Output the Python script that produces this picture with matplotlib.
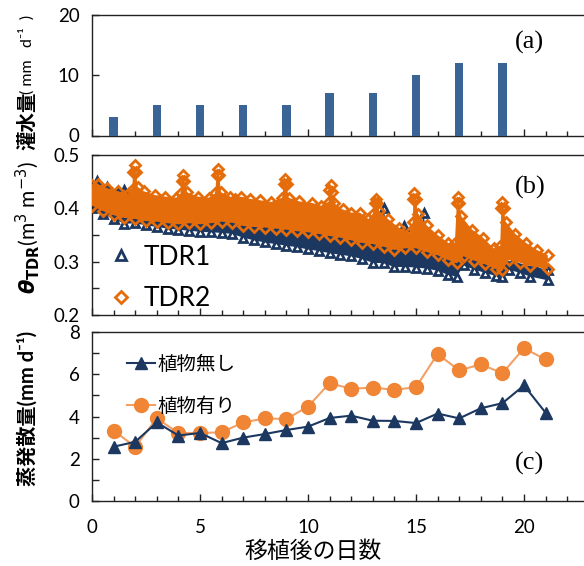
import numpy as np
import matplotlib
matplotlib.use('Agg')
import matplotlib.pyplot as plt
from matplotlib.ticker import MultipleLocator, NullFormatter
from matplotlib.lines import Line2D

plt.rcParams['font.family'] = ['Lato', 'Noto Sans CJK JP', 'DejaVu Sans']
plt.rcParams['mathtext.fontset'] = 'dejavusans'

# ---------------- data ----------------
irr_days = [1, 3, 5, 7, 9, 11, 13, 15, 17, 19]
irr_mm = [3, 5, 5, 5, 5, 7, 7, 10, 12, 12]

et_days = list(range(1, 22))
et_noplant = [2.57, 2.8, 3.72, 3.1, 3.22, 2.74, 3.0, 3.17, 3.36, 3.52, 3.93,
              4.04, 3.8, 3.79, 3.69, 4.14, 3.91, 4.39, 4.63, 5.47, 4.18]
et_plant = [3.33, 2.57, 3.91, 3.22, 3.22, 3.25, 3.72, 3.91, 3.88, 4.47, 5.58,
            5.31, 5.37, 5.26, 5.39, 6.96, 6.18, 6.47, 6.05, 7.23, 6.70]

# TDR2 (orange) band: upper and lower envelopes
tdr2_up_days = [0.0, 0.3, 0.7, 1.2, 1.7, 1.85, 1.91, 1.97, 2.03, 2.12, 2.4, 2.9,
                3.4, 3.9, 4.1, 4.16, 4.22, 4.28, 4.4, 4.9, 5.4, 5.7, 5.77, 5.83,
                5.89, 5.97, 6.4, 6.6, 6.9, 7.3, 7.8, 8.3, 8.8, 8.89, 8.95, 9.01,
                9.1, 9.6, 10.2, 10.6, 10.95, 10.99, 11.05, 11.11, 11.2, 11.6, 12.0,
                12.4, 12.8, 13.0, 13.09, 13.15, 13.21, 13.3, 13.7, 14.2, 14.7,
                14.85, 14.88, 14.93, 14.99, 15.1, 15.5, 16.0, 16.5, 16.8, 16.89,
                16.95, 17.01, 17.1, 17.6, 18.1, 18.6, 18.9, 18.95, 19.0, 19.06,
                19.15, 19.6, 20.1, 20.6, 21.1]
tdr2_up = [0.443, 0.445, 0.438, 0.432, 0.428, 0.435, 0.468, 0.481, 0.468, 0.44,
           0.432, 0.425, 0.422, 0.42, 0.428, 0.452, 0.462, 0.452, 0.43, 0.422,
           0.42, 0.428, 0.462, 0.474, 0.462, 0.43, 0.422, 0.418, 0.422, 0.418,
           0.415, 0.412, 0.42, 0.445, 0.455, 0.445, 0.42, 0.413, 0.41, 0.405,
           0.412, 0.434, 0.444, 0.43, 0.41, 0.398, 0.392, 0.392, 0.38, 0.39,
           0.41, 0.418, 0.41, 0.395, 0.38, 0.364, 0.355, 0.375, 0.418, 0.428,
           0.418, 0.39, 0.368, 0.35, 0.335, 0.335, 0.41, 0.422, 0.41, 0.385,
           0.36, 0.345, 0.325, 0.33, 0.40, 0.412, 0.40, 0.375, 0.352, 0.335,
           0.322, 0.312]
tdr2_lo_days = [0.0, 0.5, 1.0, 1.5, 2.0, 2.5, 3.0, 3.5, 4.0, 4.5, 5.0, 5.5, 6.0,
                6.5, 7.0, 7.5, 8.0, 8.5, 9.0, 9.5, 10.0, 10.5, 11.0, 11.5, 12.0,
                12.5, 13.0, 13.5, 14.0, 14.5, 15.0, 15.5, 16.0, 16.5, 16.9, 17.2,
                17.7, 18.2, 18.7, 19.0, 19.3, 19.8, 20.3, 21.1]
tdr2_lo = [0.405, 0.395, 0.387, 0.382, 0.38, 0.376, 0.375, 0.372, 0.37, 0.372,
           0.37, 0.372, 0.375, 0.373, 0.367, 0.365, 0.364, 0.362, 0.36, 0.357,
           0.355, 0.352, 0.348, 0.345, 0.34, 0.335, 0.333, 0.328, 0.322, 0.325,
           0.325, 0.318, 0.312, 0.303, 0.297, 0.31, 0.302, 0.295, 0.286, 0.284,
           0.303, 0.298, 0.292, 0.286]

# TDR1 (navy) band
tdr1_up_days = [0.0, 0.25, 0.7, 1.2, 1.5, 1.8, 2.5, 3.5, 4.5, 5.5, 6.5, 7.5, 8.5,
                9.5, 10.5, 11.5, 12.5, 13.3, 13.5, 13.7, 14.35, 14.45, 14.6,
                15.2, 15.35, 15.5, 16.5, 17.5, 18.5, 19.5, 20.5, 21.1]
tdr1_up = [0.43, 0.452, 0.44, 0.432, 0.434, 0.41, 0.405, 0.4, 0.395, 0.395, 0.39,
           0.385, 0.38, 0.375, 0.37, 0.36, 0.35, 0.345, 0.40, 0.35, 0.34, 0.366,
           0.34, 0.34, 0.391, 0.34, 0.32, 0.315, 0.305, 0.3, 0.29, 0.285]
tdr1_lo_days = [0.0, 0.5, 1.0, 1.5, 2.0, 2.5, 3.0, 3.5, 4.0, 4.5, 5.0, 5.5, 6.0,
                6.5, 7.0, 7.5, 8.0, 8.5, 9.0, 9.5, 10.0, 10.5, 11.0, 11.5, 12.0,
                12.5, 13.0, 13.5, 14.0, 14.5, 15.0, 15.5, 16.0, 16.5, 16.9, 17.2,
                17.7, 18.2, 18.7, 19.0, 19.3, 19.8, 20.3, 21.1]
tdr1_lo = [0.40, 0.39, 0.38, 0.371, 0.372, 0.368, 0.365, 0.362, 0.36, 0.358,
           0.356, 0.355, 0.354, 0.352, 0.345, 0.34, 0.336, 0.333, 0.33, 0.327,
           0.323, 0.32, 0.316, 0.313, 0.31, 0.305, 0.298, 0.297, 0.29, 0.29,
           0.289, 0.287, 0.283, 0.275, 0.272, 0.293, 0.285, 0.279, 0.273, 0.272,
           0.285, 0.279, 0.272, 0.265]

# ---------------- style ----------------
NAVY = '#1c3861'
ORANGE_B = '#e46c0a'
ORANGE_C = '#ef8535'
ORANGE_LINE = '#f2a066'
BAR = '#3b6496'
W, H = 584, 566

fig = plt.figure(figsize=(W / 100, H / 100), dpi=100)

def frac_axes(top, bottom, left=92, right=584):
    return fig.add_axes([left / W, 1 - bottom / H, (right - left) / W, (bottom - top) / H])

ax_a = frac_axes(15, 135.5)
ax_b = frac_axes(155, 315)
ax_c = frac_axes(332, 501)
XMAX = (584 - 92) / 21.6

for ax in (ax_a, ax_b, ax_c):
    ax.set_xlim(0, XMAX)
    ax.spines['right'].set_visible(False)
    for s in ('left', 'bottom', 'top'):
        ax.spines[s].set_linewidth(1.0)
        ax.spines[s].set_color('#222222')
    ax.xaxis.set_major_locator(MultipleLocator(5))
    ax.xaxis.set_minor_locator(MultipleLocator(1))
    ax.tick_params(axis='both', which='both', direction='in', top=False, right=False,
                   labelsize=13.5, colors='#222222', width=1.0)
    ax.tick_params(axis='x', which='major', length=5.3, pad=13)
    ax.tick_params(axis='x', which='minor', length=3.4)
    ax.tick_params(axis='y', which='both', length=5.0, pad=9)
    ax.tick_params(axis='both', labelcolor='black')

# (a) irrigation
ax_a.bar(irr_days, irr_mm, width=0.38, color=BAR, zorder=3)
ax_a.set_ylim(0, 20)
ax_a.yaxis.set_major_locator(MultipleLocator(10))
ax_a.xaxis.set_major_formatter(NullFormatter())
ax_a.text(0.89, 0.77, '(a)', transform=ax_a.transAxes, fontsize=19,
          family='Liberation Serif', ha='center', va='center')

# (b) TDR
ax_b.fill(np.r_[tdr1_up_days, tdr1_lo_days[::-1]], np.r_[tdr1_up, tdr1_lo[::-1]],
          color=NAVY, lw=0, zorder=2)
for dd, vv in ((tdr1_up_days, tdr1_up), (tdr1_lo_days, tdr1_lo)):
    ax_b.plot(dd, vv, ls='none', marker='^', ms=6, mfc='none',
              mec=NAVY, mew=2.0, zorder=2)
ax_b.fill(np.r_[tdr2_up_days, tdr2_lo_days[::-1]], np.r_[tdr2_up, tdr2_lo[::-1]],
          color=ORANGE_B, lw=0, zorder=3)
for dd, vv in ((tdr2_up_days, tdr2_up), (tdr2_lo_days, tdr2_lo)):
    ax_b.plot(dd, vv, ls='none', marker='D', ms=5, mfc='none',
              mec=ORANGE_B, mew=2.0, zorder=3)
ax_b.set_ylim(0.2, 0.5)
ax_b.yaxis.set_major_locator(MultipleLocator(0.1))
ax_b.yaxis.set_minor_locator(MultipleLocator(0.05))
ax_b.yaxis.set_major_formatter(plt.FuncFormatter(lambda v, p: f'{v:.1f}'))
ax_b.xaxis.set_major_formatter(NullFormatter())
hb = [Line2D([], [], ls='none', marker='^', ms=7, mfc='none', mec=NAVY, mew=2),
      Line2D([], [], ls='none', marker='D', ms=6, mfc='none', mec=ORANGE_B, mew=2)]
ax_b.legend(hb, ['TDR1', 'TDR2'], loc='upper left', bbox_to_anchor=(0.0, 0.555),
            frameon=False, fontsize=19, handlelength=0.8, handletextpad=0.45,
            labelspacing=0.62, borderaxespad=0.3)
ax_b.text(0.89, 0.80, '(b)', transform=ax_b.transAxes, fontsize=19,
          family='Liberation Serif', ha='center', va='center')

# (c) ET
l1, = ax_c.plot(et_days, et_noplant, color=NAVY, lw=1.5, marker='^', ms=8.5,
                mfc=NAVY, mec=NAVY, zorder=3)
l2, = ax_c.plot(et_days, et_plant, color=ORANGE_LINE, lw=1.5, marker='o', ms=10,
                mfc=ORANGE_C, mec=ORANGE_C, zorder=2)
ax_c.set_ylim(0, 8)
ax_c.yaxis.set_major_locator(MultipleLocator(2))
ax_c.yaxis.set_minor_locator(MultipleLocator(1))
ax_c.legend([l1, l2], ['植物無し', '植物有り'], loc='upper left',
            bbox_to_anchor=(0.035, 0.97), frameon=False, fontsize=14,
            handlelength=1.45, handletextpad=0.15, labelspacing=1.2)
ax_c.text(0.89, 0.22, '(c)', transform=ax_c.transAxes, fontsize=19,
          family='Liberation Serif', ha='center', va='center')
ax_c.set_xlabel('移植後の日数', fontsize=16.5)
ax_c.xaxis.set_label_coords((313 - 92) / 492, (501 - 551) / 169)
ax_c.xaxis.label.set_va('center')

# y labels
fig.text(27 / W, 1 - 121 / H, '灌水量', rotation=90, fontsize=14, ha='center',
         va='center', fontweight='bold')
fig.text(27 / W, 1 - 94 / H, '( mm   d⁻¹  )', rotation=90, fontsize=11.5,
         ha='center', va='bottom')
fig.text(28 / W, 1 - 228 / H, r'$\boldsymbol{\theta}_{\mathbf{TDR}}$(m$^3$ m$^{-3}$)',
         rotation=90, fontsize=15, ha='center', va='center')
fig.text(27 / W, 1 - 408 / H, '蒸発散量(mm d⁻¹)', rotation=90, fontsize=14.5,
         ha='center', va='center', fontweight='bold')

fig.savefig('out.png', dpi=100)
